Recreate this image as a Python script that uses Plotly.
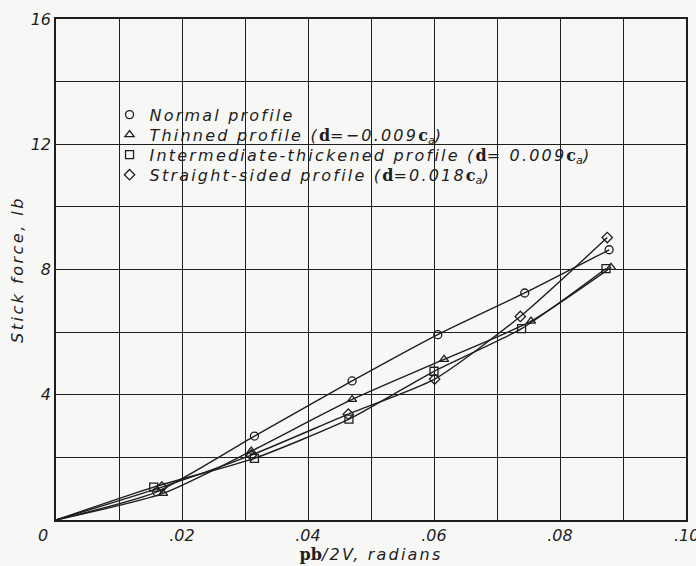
import plotly.graph_objects as go

# pb/2V (radians) and stick force (lb) for each aileron profile
x_normal = [0, 0.016, 0.0315, 0.047, 0.0606, 0.0744, 0.0878]
y_normal = [0, 0.9, 2.68, 4.44, 5.92, 7.25, 8.63]

x_thinned = [0, 0.017, 0.031, 0.047, 0.0616, 0.0754, 0.0881]
y_thinned = [0, 0.85, 2.2, 3.85, 5.13, 6.35, 8.07]

x_inter = [0, 0.0155, 0.0315, 0.0465, 0.060, 0.0739, 0.0873]
y_inter = [0, 1.05, 1.97, 3.22, 4.75, 6.11, 8.03]

x_straight = [0, 0.0168, 0.031, 0.0464, 0.0601, 0.0737, 0.0875]
y_straight = [0, 1.05, 2.07, 3.38, 4.5, 6.5, 9.02]

x_ticks = [0, 0.01, 0.02, 0.03, 0.04, 0.05, 0.06, 0.07, 0.08, 0.09, 0.10]
x_ticktext = ["", "", ".02", "", ".04", "", ".06", "", ".08", "", ""]
y_ticks = [0, 2, 4, 6, 8, 10, 12, 14, 16]
y_ticktext = ["", "", "4", "", "8", "", "12", "", "16"]

INK = "#1e1e1e"
BG = "#f7f7f5"
SANS = "DejaVu Sans"
SERIF = "DejaVu Serif"


def spaced(text, gap=2.2):
    return f'<span style="letter-spacing:{gap}px">{text}</span>'


def bold_serif(text):
    return f'<span style="font-family:{SERIF}; font-style:normal"><b>{text}</b></span>'


D = bold_serif("d")
CA = bold_serif("c") + "<sub>a</sub>"

series = [
    (spaced("Normal profile"), x_normal, y_normal, "circle-open"),
    (spaced("Thinned profile (") + D + spaced("=−0.009") + CA + ")",
     x_thinned, y_thinned, "triangle-up-open"),
    (spaced("Intermediate-thickened profile (") + D + spaced("= 0.009") + CA + ")",
     x_inter, y_inter, "square-open"),
    (spaced("Straight-sided profile (") + D + spaced("=0.018") + CA + ")",
     x_straight, y_straight, "diamond-open"),
]

fig = go.Figure()

# faired curves
for name, xs, ys, sym in series:
    fig.add_trace(go.Scatter(
        x=xs, y=ys, mode="lines",
        line=dict(color=INK, width=1.4, shape="spline", smoothing=0.6),
        showlegend=False, hoverinfo="skip",
    ))

# test points, one key row per profile
legend_ids = ["legend", "legend2", "legend3", "legend4"]
for (name, xs, ys, sym), lid in zip(series, legend_ids):
    fig.add_trace(go.Scatter(
        x=xs[1:], y=ys[1:], mode="markers", name=name, legend=lid,
        marker=dict(symbol=sym, size=8, color=INK, line=dict(width=1.3, color=INK)),
    ))

tick_font = dict(family=SANS, size=16, style="italic", color=INK)

# shared origin label and the right-hand end label of the x scale
fig.add_annotation(x=0, y=0, xref="x", yref="y", text="0", showarrow=False,
                   xanchor="right", yanchor="top", xshift=-6, yshift=-4, font=tick_font)
fig.add_annotation(x=0.10, y=0, xref="x", yref="y", text=".10", showarrow=False,
                   xanchor="center", yanchor="top", yshift=-4, font=tick_font)


def key_row(y):
    return dict(
        x=0.085, y=y, xanchor="left", yanchor="middle",
        bgcolor="rgba(0,0,0,0)", borderwidth=0,
        font=dict(family=SANS, size=16, color=INK, style="italic"),
        itemwidth=30,
    )


fig.update_layout(
    width=696, height=566,
    margin=dict(l=56, r=8, t=19, b=45),
    paper_bgcolor=BG, plot_bgcolor=BG,
    font=dict(family=SANS, color=INK),
    showlegend=True,
    legend=key_row(0.809),
    legend2=key_row(0.769),
    legend3=key_row(0.729),
    legend4=key_row(0.689),
    xaxis=dict(
        range=[0, 0.10], tickvals=x_ticks, ticktext=x_ticktext,
        showgrid=True, gridcolor=INK, gridwidth=1.1,
        showline=True, linecolor=INK, linewidth=1.5, mirror=True,
        zeroline=False, ticks="",
        tickfont=tick_font,
        title=dict(
            text=bold_serif("pb") + spaced("/2V, radians"),
            font=dict(family=SANS, size=16, style="italic"), standoff=2,
        ),
    ),
    yaxis=dict(
        range=[0, 16], tickvals=y_ticks, ticktext=y_ticktext,
        showgrid=True, gridcolor=INK, gridwidth=1.1,
        showline=True, linecolor=INK, linewidth=1.5, mirror=True,
        zeroline=False, ticks="",
        tickfont=tick_font,
        title=dict(text=spaced("Stick force, lb", 2.5),
                   font=dict(family=SANS, size=16, style="italic"), standoff=3),
    ),
)

fig.write_html("out.html")
